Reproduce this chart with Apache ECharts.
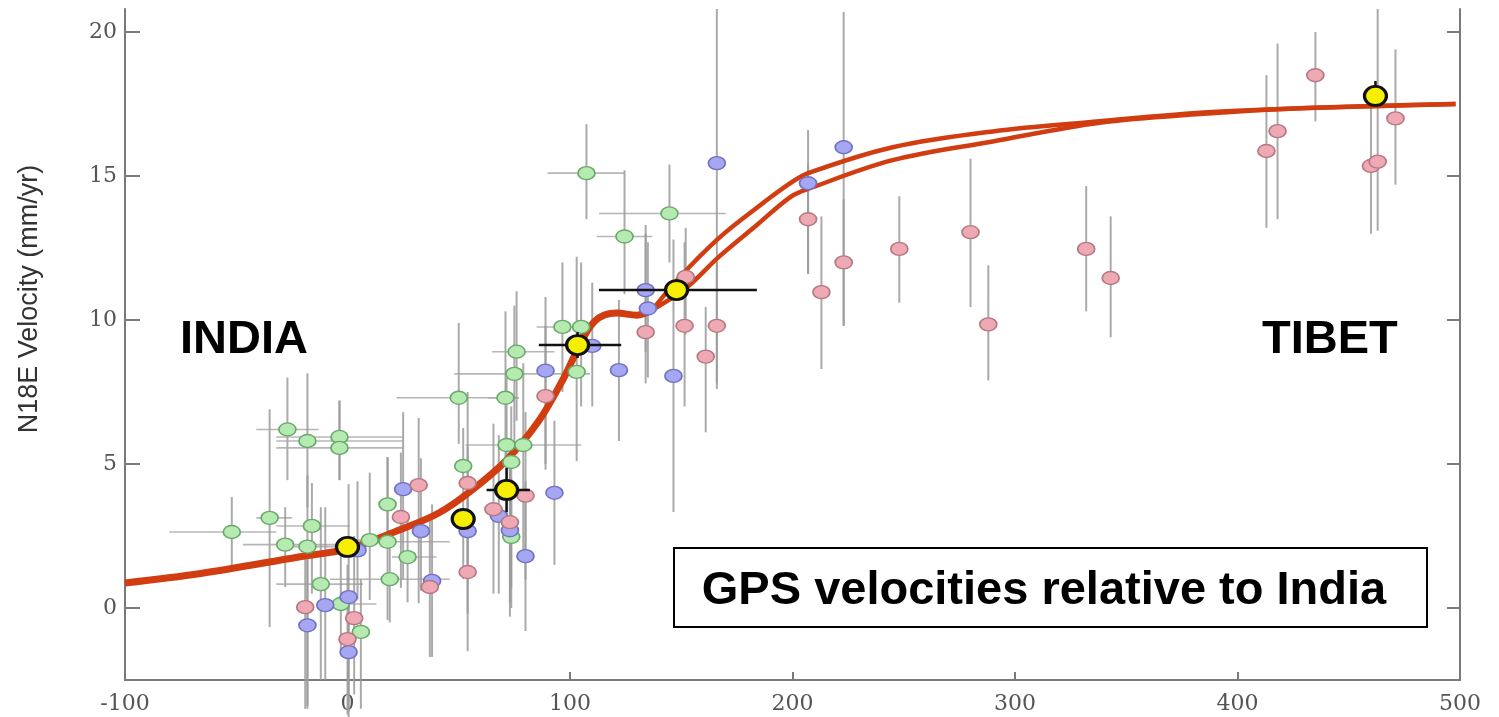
<!DOCTYPE html>
<html>
<head>
<meta charset="utf-8">
<title>GPS velocities relative to India</title>
<script src="https://cdn.jsdelivr.net/npm/echarts@6/dist/echarts.min.js"></script>
<style>
  html, body { margin: 0; padding: 0; background: #fff; }
  #chart { width: 1499px; height: 717px; }
</style>
</head>
<body>
<div id="chart"></div>
<script>
// Axis ticks
const xTicks = [-100, 0, 100, 200, 300, 400, 500];
const yTicks = [0, 5, 10, 15, 20];

// Site velocities: [distance km, velocity mm/yr, velLow, velHigh, distLow, distHigh]
const greenSites = [
  [-52, 2.64, 1.42, 3.85, -80, -32],
  [-35, 3.13, -0.66, 6.9, -41, -25],
  [-27, 6.2, 4.44, 8.0, -41, -13],
  [-18, 5.8, 3.5, 8.15, -32, 25],
  [-3.6, 5.94, 4.44, 7.2, -32, 25],
  [-3.6, 5.56, 4.44, 7.2, -32, 25],
  [-28, 2.2, 0.73, 3.5, -47, -4],
  [-18, 2.13, -3.5, 4.6, -30, 0],
  [-16, 2.85, 0.5, 4.34, -32, 1],
  [-12, 0.83, -2.5, 3.5, -32, 7],
  [-3, 0.14, -1.5, 1.8, -9.5, 13],
  [6, -0.83, -3.5, 1.0, null, null],
  [10, 2.36, 0.28, 4.7, 4, 17],
  [18, 2.3, -0.42, 5.24, 11, 46],
  [18, 3.6, 2.5, 5.24, null, null],
  [19, 1.0, -0.5, 2.5, -8, 46],
  [27, 1.77, 0.2, 3.3, 20, 40],
  [50, 7.3, 5.7, 9.9, 22, 77],
  [52, 4.93, 1.0, 6.25, null, null],
  [71, 7.3, 5.1, 10.3, 63, 77],
  [75, 8.13, 5.5, 10.5, 48, 109],
  [76, 8.9, 6.5, 11.0, 65, 93],
  [71.5, 5.66, 3.0, 8.0, 53, 105],
  [79, 5.66, 2.0, 8.5, null, null],
  [73.6, 5.07, 0.7, 7.0, null, null],
  [73.6, 2.47, 0.0, 4.5, null, null],
  [96.6, 9.76, 7.5, 12.0, 85, 110],
  [105, 9.76, 7.0, 12.0, null, null],
  [103, 8.2, 5.1, 12.2, null, null],
  [107.4, 15.1, 13.5, 16.8, 90, 124.5],
  [144.7, 13.7, 12.0, 15.4, 113, 170],
  [124.5, 12.9, 10.9, 15.2, 112, 137]
];

const blueSites = [
  [-18, -0.6, -3.4, 2.0],
  [-10, 0.1, -2.5, 3.5],
  [0.5, 0.38, -3.6, 4.3],
  [0.5, -1.53, -3.8, 0.5],
  [4.5, 2.0, 0.3, 4.4],
  [25, 4.13, 1.0, 6.8],
  [33, 2.67, 0.6, 5.2],
  [38, 0.94, -1.7, 3.6],
  [54, 2.67, -0.2, 5.6],
  [68, 3.2, 0.5, 6.0],
  [73, 2.7, -0.3, 5.3],
  [80, 1.8, -0.8, 4.4],
  [93, 4.0, 1.5, 6.5],
  [89, 8.24, 4.8, 10.8],
  [110, 9.1, 7.0, 11.3],
  [122, 8.26, 5.8, 10.7],
  [134, 11.04, 8.9, 13.0],
  [135, 10.4, 8.0, 12.7],
  [146.5, 8.06, 3.33, 12.8],
  [166, 15.45, 7.8, 20.8],
  [207, 14.75, 11.6, 16.6],
  [223, 16.0, 9.8, 20.7]
];

const pinkSites = [
  [-19, 0.03, -3.5, 2.2],
  [0, -1.08, -3.7, 1.5],
  [3, -0.35, -3.0, 2.5],
  [24, 3.16, 0.7, 5.4],
  [32, 4.27, 0.17, 6.6],
  [37, 0.73, -1.7, 3.2],
  [54, 4.34, 1.5, 7.5],
  [54, 1.25, -1.5, 4.0],
  [65.6, 3.43, 0.5, 6.4],
  [73, 2.98, 0.2, 5.8],
  [80, 3.9, 1.0, 6.8],
  [89, 7.36, 5.0, 9.8],
  [134, 9.58, 7.8, 13.3],
  [151.5, 9.8, 7.0, 12.7],
  [152, 11.5, 9.5, 13.2],
  [161, 8.73, 6.1, 10.45],
  [166, 9.8, 7.6, 12.0],
  [207, 13.5, 11.6, 15.4],
  [213, 10.97, 8.3, 13.6],
  [223, 12.0, 9.8, 14.2],
  [248, 12.47, 10.6, 14.3],
  [280, 13.05, 10.45, 15.6],
  [288, 9.85, 7.9, 11.9],
  [332, 12.47, 10.3, 14.65],
  [343, 11.46, 9.4, 13.6],
  [413, 15.87, 13.2, 18.5],
  [418, 16.56, 13.5, 19.6],
  [435, 18.5, 16.9, 20.0],
  [460, 15.35, 13.0, 17.6],
  [463, 15.5, 13.1, 20.8],
  [471, 17.0, 14.7, 19.4]
];

// Averaged velocities: [distance, velocity, distLow, distHigh, velLow, velHigh]
const meanSites = [
  [0, 2.12, null, null, null, null],
  [52, 3.09, null, null, null, null],
  [71.5, 4.1, 62.5, 82, 3.33, 4.86],
  [103.4, 9.13, 86, 123, 8.68, 9.58],
  [147.9, 11.04, 113, 184, null, null],
  [462, 17.78, null, null, 17.78, 18.3]
];

// Model velocity profiles: common trunk, then two branches
const modelTrunk = [
  [-100, 0.87], [-66, 1.2], [-22, 1.77], [0, 2.05], [23, 2.7], [41, 3.3],
  [56, 4.1], [71.5, 5.14], [86, 6.5], [96.6, 7.9], [103, 8.9], [111, 9.95],
  [121, 10.24], [130, 10.17], [137, 10.35]
];
const modelUpper = [
  [137, 10.35], [149, 11.46], [167, 12.85], [184, 13.9], [199, 14.75], [207, 15.1],
  [245, 16.0], [290, 16.55], [338, 16.9], [383, 17.2], [428, 17.35], [498, 17.5]
];
const modelLower = [
  [137, 10.35], [152, 11.1], [167, 12.2], [184, 13.3], [199, 14.27], [207, 14.55],
  [245, 15.55], [290, 16.2], [338, 16.85], [383, 17.15], [428, 17.35], [498, 17.5]
];

const chart = echarts.init(document.getElementById('chart'), null, { renderer: 'canvas' });

const barSites = greenSites.concat(blueSites, pinkSites);

// Grey uncertainty bars for the individual sites
function siteBars(params, api) {
  const s = barSites[params.dataIndex];
  const kids = [];
  if (s[2] != null && s[3] != null) {
    const a = api.coord([s[0], s[2]]);
    const b = api.coord([s[0], s[3]]);
    kids.push({ type: 'line', shape: { x1: a[0], y1: a[1], x2: b[0], y2: b[1] },
      style: { stroke: '#9b9b9b', lineWidth: 2, opacity: 0.85 } });
  }
  if (s.length > 4 && s[4] != null && s[5] != null) {
    const a = api.coord([s[4], s[1]]);
    const b = api.coord([s[5], s[1]]);
    kids.push({ type: 'line', shape: { x1: a[0], y1: a[1], x2: b[0], y2: b[1] },
      style: { stroke: '#a9a9a9', lineWidth: 1.6, opacity: 0.85 } });
  }
  return { type: 'group', children: kids };
}

// Black bars for the averaged velocities
function meanBars(params, api) {
  const s = meanSites[params.dataIndex];
  const kids = [];
  if (s[2] != null) {
    const a = api.coord([s[2], s[1]]);
    const b = api.coord([s[3], s[1]]);
    kids.push({ type: 'line', shape: { x1: a[0], y1: a[1], x2: b[0], y2: b[1] },
      style: { stroke: '#111', lineWidth: 2.5 } });
  }
  if (s[4] != null) {
    const a = api.coord([s[0], s[4]]);
    const b = api.coord([s[0], s[5]]);
    kids.push({ type: 'line', shape: { x1: a[0], y1: a[1], x2: b[0], y2: b[1] },
      style: { stroke: '#111', lineWidth: 2.5 } });
  }
  return { type: 'group', children: kids };
}

const axisGray = '#7a7a7a';
const tickFont = { fontFamily: 'DejaVu Serif', fontSize: 22, color: '#555' };

const option = {
  animation: false,
  backgroundColor: '#fff',
  grid: { left: 125, right: 39, top: 9, bottom: 37 },
  xAxis: {
    type: 'value', min: -100, max: 500, interval: 100,
    axisLine: { show: true, onZero: false, lineStyle: { color: axisGray, width: 2 } },
    axisTick: { show: true, inside: true, length: 8, lineStyle: { color: axisGray, width: 2 } },
    axisLabel: Object.assign({ margin: 13, customValues: xTicks }, tickFont),
    splitLine: { show: false }
  },
  yAxis: [
    {
      type: 'value', min: -2.5, max: 20.8, position: 'left',
      axisLine: { show: true, onZero: false, lineStyle: { color: axisGray, width: 2 } },
      axisTick: { show: true, inside: true, length: 15, customValues: yTicks, lineStyle: { color: axisGray, width: 2 } },
      axisLabel: Object.assign({ margin: 8, customValues: yTicks }, tickFont),
      splitLine: { show: false }
    },
    {
      type: 'value', min: -2.5, max: 20.8, position: 'right',
      axisLine: { show: true, onZero: false, lineStyle: { color: axisGray, width: 2 } },
      axisTick: { show: true, inside: true, length: 13, customValues: yTicks, lineStyle: { color: axisGray, width: 2 } },
      axisLabel: { show: false },
      splitLine: { show: false }
    }
  ],
  series: [
    {
      type: 'custom', name: 'uncertainty', z: 1, clip: false,
      renderItem: siteBars,
      encode: { x: 0, y: 1 },
      data: barSites.map(s => [s[0], s[1]])
    },
    {
      type: 'line', name: 'model', z: 2, data: modelTrunk, smooth: 0.35,
      showSymbol: false, lineStyle: { color: '#d13d10', width: 7 }
    },
    {
      type: 'line', name: 'model upper', z: 2, data: modelUpper, smooth: 0.35,
      showSymbol: false, lineStyle: { color: '#d13d10', width: 4.5 }
    },
    {
      type: 'line', name: 'model lower', z: 2, data: modelLower, smooth: 0.35,
      showSymbol: false, lineStyle: { color: '#d13d10', width: 4.5 }
    },
    {
      type: 'scatter', name: 'green', z: 3, symbol: 'circle', symbolSize: [17, 13],
      data: greenSites.map(s => [s[0], s[1]]),
      itemStyle: { color: '#b5ebb0', borderColor: '#6aa86a', borderWidth: 1.5, opacity: 1 }
    },
    {
      type: 'scatter', name: 'blue', z: 3, symbol: 'circle', symbolSize: [17, 13],
      data: blueSites.map(s => [s[0], s[1]]),
      itemStyle: { color: '#a5a7f2', borderColor: '#7072c0', borderWidth: 1.5, opacity: 1 }
    },
    {
      type: 'scatter', name: 'pink', z: 3, symbol: 'circle', symbolSize: [17, 13],
      data: pinkSites.map(s => [s[0], s[1]]),
      itemStyle: { color: '#efa9b4', borderColor: '#b57880', borderWidth: 1.5, opacity: 1 }
    },
    {
      type: 'custom', name: 'mean uncertainty', z: 4, clip: false,
      renderItem: meanBars,
      encode: { x: 0, y: 1 },
      data: meanSites.map(s => [s[0], s[1]])
    },
    {
      type: 'scatter', name: 'mean', z: 5, symbol: 'circle', symbolSize: [22, 19],
      data: meanSites.map(s => [s[0], s[1]]),
      itemStyle: { color: '#f6f000', borderColor: '#111', borderWidth: 3, opacity: 1 }
    }
  ],
  graphic: [
    {
      type: 'text', x: 30, y: 299, rotation: Math.PI / 2, z: 10,
      style: { text: 'N18E Velocity (mm/yr)', font: '27px "Liberation Sans"', fill: '#333',
        textAlign: 'center', textVerticalAlign: 'middle' }
    },
    {
      type: 'text', x: 180, y: 340, z: 10,
      style: { text: 'INDIA', font: 'bold 47px "Liberation Sans"', fill: '#000',
        textAlign: 'left', textVerticalAlign: 'middle' }
    },
    {
      type: 'text', x: 1262, y: 340, z: 10,
      style: { text: 'TIBET', font: 'bold 47px "Liberation Sans"', fill: '#000',
        textAlign: 'left', textVerticalAlign: 'middle' }
    },
    {
      type: 'rect', z: 10,
      shape: { x: 674, y: 548, width: 753, height: 79 },
      style: { fill: '#fff', stroke: '#000', lineWidth: 2 }
    },
    {
      type: 'text', x: 1044, y: 591, z: 11,
      style: { text: 'GPS velocities relative to India', font: 'bold 47px "Liberation Sans"', fill: '#000',
        textAlign: 'center', textVerticalAlign: 'middle' }
    }
  ]
};

chart.setOption(option);
</script>
</body>
</html>
